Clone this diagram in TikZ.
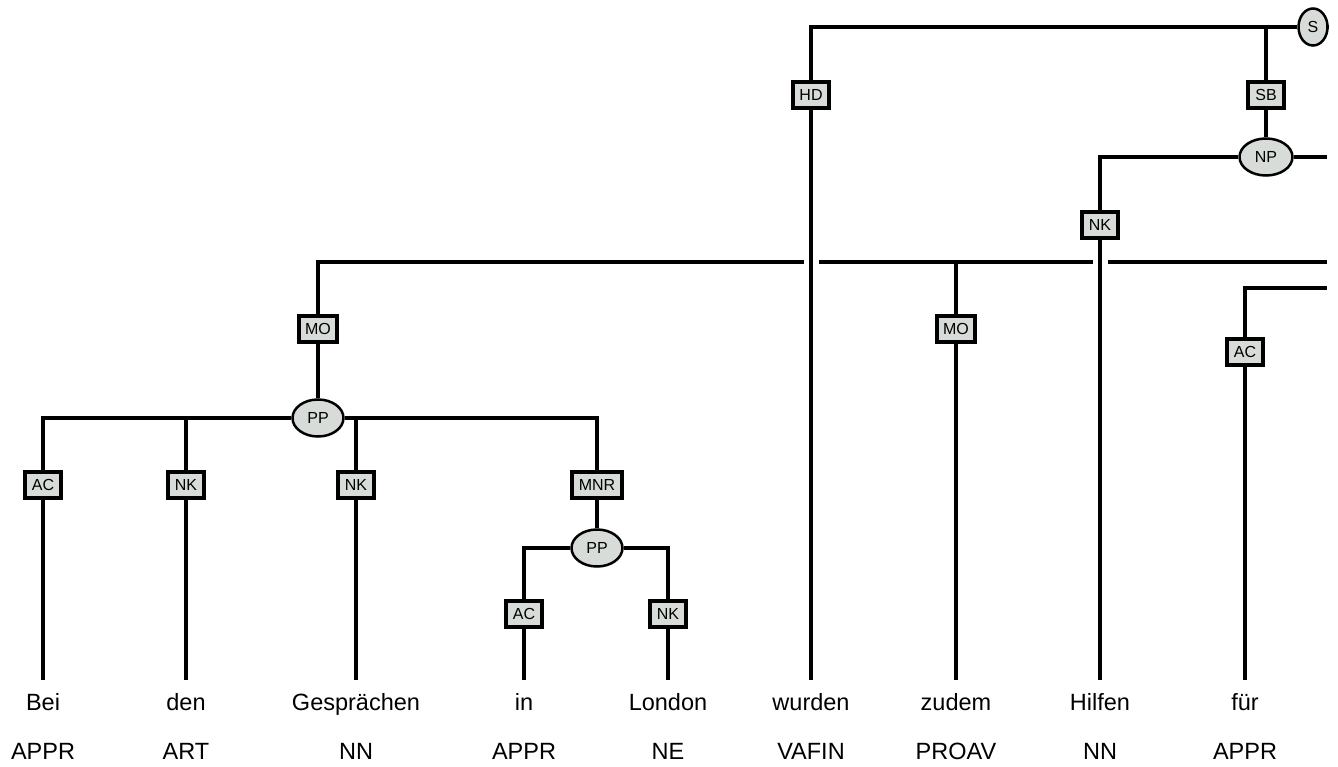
\documentclass[tikz,border=0pt]{standalone}
\usepackage{fontspec}
\setmainfont{Liberation Sans}
\usetikzlibrary{shapes.geometric}
\definecolor{boxfill}{HTML}{D8DCD8}
\begin{document}
\begin{tikzpicture}[x=1pt,y=-1pt,
  lbl/.style={draw=black, line width=4pt, fill=boxfill, minimum width=36pt, minimum height=26pt, inner xsep=6.5pt, inner ysep=0pt, font=\fontsize{16}{18}\selectfont},
  cat/.style={ellipse, draw=black, line width=2.5pt, fill=boxfill, inner sep=0pt, minimum height=37pt, font=\fontsize{16}{18}\selectfont},
  edge/.style={line width=3.3pt},
  word/.style={font=\fontsize{23.5}{26}\selectfont, inner sep=0pt, anchor=base}]
\useasboundingbox (0,0) rectangle (1338,767);

% phrase and function nodes
\node[cat, minimum width=29pt] (S) at (1313,27) {S};
\node[lbl] (HD) at (811,95) {HD};
\node[lbl] (SB) at (1266,95) {SB};
\node[cat, minimum width=53pt] (NP) at (1266,157) {NP};
\node[lbl] (NKh) at (1100,225) {NK};
\node[lbl] (MO1) at (318,329) {MO};
\node[lbl] (MO2) at (956,329) {MO};
\node[lbl] (ACf) at (1245,352) {AC};
\node[cat, minimum width=51pt] (PP1) at (318,418) {PP};
\node[lbl] (ACb) at (43,485) {AC};
\node[lbl] (NKd) at (186,485) {NK};
\node[lbl] (NKg) at (356,485) {NK};
\node[lbl] (MNR) at (597,485) {MNR};
\node[cat, minimum width=51pt] (PP2) at (597,548) {PP};
\node[lbl] (ACi) at (524,614) {AC};
\node[lbl] (NKl) at (668,614) {NK};

% words and tags
\node[word] (w1) at (43,710) {Bei};
\node[word] (w2) at (186,710) {den};
\node[word] (w3) at (356,710) {Gespr\"achen};
\node[word] (w4) at (524,710) {in};
\node[word] (w5) at (668,710) {London};
\node[word] (w6) at (811,710) {wurden};
\node[word] (w7) at (956,710) {zudem};
\node[word] (w8) at (1100,710) {Hilfen};
\node[word] (w9) at (1245,710) {f\"ur};
\node[word] (t1) at (43,759) {APPR};
\node[word] (t2) at (186,759) {ART};
\node[word] (t3) at (356,759) {NN};
\node[word] (t4) at (524,759) {APPR};
\node[word] (t5) at (668,759) {NE};
\node[word] (t6) at (811,759) {VAFIN};
\node[word] (t7) at (956,759) {PROAV};
\node[word] (t8) at (1100,759) {NN};
\node[word] (t9) at (1245,759) {APPR};

% leaf ends and free ends
\coordinate (e1) at (43,680);
\coordinate (e2) at (186,680);
\coordinate (e3) at (356,680);
\coordinate (e4) at (524,680);
\coordinate (e5) at (668,680);
\coordinate (e6) at (811,680);
\coordinate (e7) at (956,680);
\coordinate (e8) at (1100,680);
\coordinate (e9) at (1245,680);
\coordinate (r27) at (1327,27);
\coordinate (r157) at (1327,157);
\coordinate (g1) at (804,262);
\coordinate (g2) at (819,262);
\coordinate (g3) at (1093,262);
\coordinate (g4) at (1108,262);
\coordinate (r262) at (1327,262);
\coordinate (r288) at (1327,288);

% S
\draw[edge] (S.west) -| (HD.north);
\draw[edge] (S.east) -- (r27);
\draw[edge] (SB.north) -- (SB.north |- S.west);
\draw[edge] (HD.south) -- (e6);
\draw[edge] (SB.south) -- (NP.north);
% NP
\draw[edge] (NP.west) -| (NKh.north);
\draw[edge] (NP.east) -- (r157);
\draw[edge] (NKh.south) -- (e8);
% long line with gaps
\draw[edge] (MO1.north) |- (g1);
\draw[edge] (g2) -- (g3);
\draw[edge] (g4) -- (r262);
\draw[edge] (MO2.north) -- (MO2.north |- g2);
\draw[edge] (MO1.south) -- (PP1.north);
\draw[edge] (MO2.south) -- (e7);
% fuer
\draw[edge, line width=3.8pt] (ACf.north) |- (r288);
\draw[edge] (ACf.south) -- (e9);
% PP1
\draw[edge] (PP1.west) -| (ACb.north);
\draw[edge] (NKd.north) -- (NKd.north |- PP1.west);
\draw[edge] (PP1.east) -| (MNR.north);
\draw[edge] (NKg.north) -- (NKg.north |- PP1.east);
\draw[edge] (ACb.south) -- (e1);
\draw[edge] (NKd.south) -- (e2);
\draw[edge] (NKg.south) -- (e3);
\draw[edge] (MNR.south) -- (PP2.north);
% PP2
\draw[edge] (PP2.west) -| (ACi.north);
\draw[edge] (PP2.east) -| (NKl.north);
\draw[edge] (ACi.south) -- (e4);
\draw[edge] (NKl.south) -- (e5);
\end{tikzpicture}
\end{document}
